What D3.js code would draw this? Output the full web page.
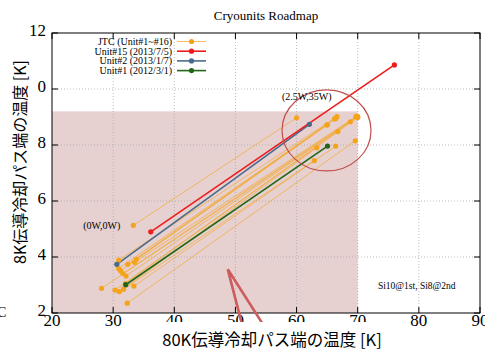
<!DOCTYPE html>
<html>
<head>
<meta charset="utf-8">
<script src="https://cdn.jsdelivr.net/npm/d3@7"></script>
<style>
  body { margin: 0; background: #fff; }
  svg { display: block; }
</style>
</head>
<body>
<svg id="chart" width="485" height="351"></svg>
<script>
"use strict";

// JTC units (#1..#16): start point (0W,0W) and end point (2.5W,35W)
var jtcStart = [
  [33.3, 5.13], [30.9, 3.89], [30.9, 3.59], [32.4, 3.74],
  [33.8, 3.92], [31.2, 3.51], [33.5, 3.81], [31.6, 3.41],
  [28.1, 2.88], [32.1, 3.32], [30.3, 2.82], [32.0, 3.05],
  [31.0, 2.76], [31.7, 2.85], [33.4, 2.96], [32.3, 2.35]
];
var jtcEnd = [
  [60.0, 8.97], [66.6, 9.01], [66.4, 8.95], [66.2, 8.93],
  [65.0, 8.71], [65.0, 8.73], [69.7, 9.01], [69.9, 9.03],
  [68.8, 8.83], [70.0, 9.01], [70.0, 8.98], [66.75, 8.48],
  [63.3, 7.90], [62.9, 7.44], [66.4, 7.96], [69.6, 8.15]
];
var unit15 = [[36.15, 4.90], [76.0, 10.86]];
var unit2 = [[30.6, 3.74], [62.1, 8.74]];
var unit1 = [[32.06, 3.01], [65.06, 7.96]];

var legendLabels = ["JTC (Unit#1~#16)", "Unit#15 (2013/7/5)", "Unit#2 (2013/1/7)", "Unit#1 (2012/3/1)"];
var legendColors = ["#f5a31a", "#ee1c1c", "#4a6a8c", "#22661a"];

var xTicks = [20, 30, 40, 50, 60, 70, 80, 90];
var yTicks = [2, 4, 6, 8, 10, 12];

var shadeBox = { x0: 20, x1: 70, y0: 2, y1: 9.2 };
var highlight = { cx: 64.9, cy: 8.52, rx: 44.5, ry: 40.5 };

var serif = "'Liberation Serif', 'DejaVu Serif', serif";
var cjk = "'Noto Sans CJK JP', 'Noto Sans', sans-serif";

var margin = { top: 33, right: 5, bottom: 38, left: 52 };
var svg = d3.select("#chart");
var width = 485 - margin.left - margin.right;
var height = 351 - margin.top - margin.bottom;

var x = d3.scaleLinear().domain([20, 90]).range([0, width]);
var y = d3.scaleLinear().domain([2, 12]).range([height, 0]);

var g = svg.append("g")
  .attr("transform", "translate(" + margin.left + "," + margin.top + ")");

// shaded region
g.append("rect")
  .attr("x", x(shadeBox.x0))
  .attr("y", y(shadeBox.y1))
  .attr("width", x(shadeBox.x1) - x(shadeBox.x0))
  .attr("height", y(shadeBox.y0) - y(shadeBox.y1))
  .attr("fill", "#e6d0d0");

// grid
g.append("g").selectAll("line").data(xTicks.slice(1, -1)).enter().append("line")
  .attr("x1", function (d) { return x(d); })
  .attr("x2", function (d) { return x(d); })
  .attr("y1", 0).attr("y2", height)
  .attr("stroke", "#aaa").attr("stroke-width", 0.8).attr("stroke-dasharray", "1,2");
g.append("g").selectAll("line").data(yTicks.slice(1, -1)).enter().append("line")
  .attr("y1", function (d) { return y(d); })
  .attr("y2", function (d) { return y(d); })
  .attr("x1", 0).attr("x2", width)
  .attr("stroke", "#aaa").attr("stroke-width", 0.8).attr("stroke-dasharray", "1,2");

// JTC segments
var jtc = d3.range(jtcStart.length).map(function (i) { return [jtcStart[i], jtcEnd[i]]; });
var line = d3.line().x(function (d) { return x(d[0]); }).y(function (d) { return y(d[1]); });

g.append("g").selectAll("path").data(jtc).enter().append("path")
  .attr("d", line)
  .attr("fill", "none")
  .attr("stroke", legendColors[0])
  .attr("stroke-opacity", 0.6)
  .attr("stroke-width", 1);

var units = [
  { pts: unit1, color: legendColors[3] },
  { pts: unit2, color: legendColors[2] },
  { pts: unit15, color: legendColors[1] }
];
units.forEach(function (u) {
  g.append("path").attr("d", line(u.pts))
    .attr("fill", "none").attr("stroke", u.color).attr("stroke-width", 1.6);
});

// JTC dots
g.append("g").selectAll("circle").data(jtcStart.concat(jtcEnd)).enter().append("circle")
  .attr("cx", function (d) { return x(d[0]); })
  .attr("cy", function (d) { return y(d[1]); })
  .attr("r", 2.6)
  .attr("fill", legendColors[0]);

units.forEach(function (u) {
  g.append("g").selectAll("circle").data(u.pts).enter().append("circle")
    .attr("cx", function (d) { return x(d[0]); })
    .attr("cy", function (d) { return y(d[1]); })
    .attr("r", 2.6)
    .attr("fill", u.color);
});

// frame + inward ticks
g.append("rect").attr("width", width).attr("height", height)
  .attr("fill", "none").attr("stroke", "#000").attr("stroke-width", 1);

xTicks.forEach(function (t) {
  g.append("line").attr("x1", x(t)).attr("x2", x(t)).attr("y1", height).attr("y2", height - 6).attr("stroke", "#000");
  g.append("line").attr("x1", x(t)).attr("x2", x(t)).attr("y1", 0).attr("y2", 6).attr("stroke", "#000");
});
yTicks.forEach(function (t) {
  g.append("line").attr("y1", y(t)).attr("y2", y(t)).attr("x1", 0).attr("x2", 6).attr("stroke", "#000");
  g.append("line").attr("y1", y(t)).attr("y2", y(t)).attr("x1", width).attr("x2", width - 6).attr("stroke", "#000");
});

// tick labels
g.append("g").selectAll("text").data(xTicks).enter().append("text")
  .attr("x", function (d) { return x(d); })
  .attr("y", height + 13)
  .attr("text-anchor", "middle")
  .attr("font-family", serif).attr("font-size", 17)
  .text(function (d) { return d; });
g.append("g").selectAll("text").data(yTicks).enter().append("text")
  .attr("x", -6)
  .attr("y", function (d) { return y(d); })
  .attr("dy", "0.2em")
  .attr("text-anchor", "end")
  .attr("font-family", serif).attr("font-size", 17)
  .text(function (d) { return d; });

// highlight ellipse
g.append("ellipse")
  .attr("cx", x(highlight.cx)).attr("cy", y(highlight.cy))
  .attr("rx", highlight.rx).attr("ry", highlight.ry)
  .attr("fill", "none").attr("stroke", "#c0504d").attr("stroke-width", 1.2);

// annotations
g.append("text").attr("x", x(57.6)).attr("y", y(9.6))
  .attr("font-family", serif).attr("font-size", 10).text("(2.5W,35W)");
g.append("text").attr("x", x(25.1)).attr("y", y(5.0))
  .attr("font-family", serif).attr("font-size", 10).text("(0W,0W)");
g.append("text").attr("x", x(73.3)).attr("y", y(2.85))
  .attr("font-family", serif).attr("font-size", 9.5).text("Si10@1st, Si8@2nd");

// legend
var leg = g.append("g").attr("transform", "translate(0,8.5)");
legendLabels.forEach(function (lab, i) {
  var ly = i * 9.7;
  leg.append("text").attr("x", 120).attr("y", ly).attr("dy", "0.33em")
    .attr("text-anchor", "end").attr("font-family", serif).attr("font-size", 10)
    .text(lab);
  leg.append("line").attr("x1", 125).attr("x2", 154).attr("y1", ly).attr("y2", ly)
    .attr("stroke", legendColors[i]).attr("stroke-width", i === 0 ? 1 : 1.6)
    .attr("stroke-opacity", i === 0 ? 0.7 : 1);
  leg.append("circle").attr("cx", 139.5).attr("cy", ly).attr("r", 2.6).attr("fill", legendColors[i]);
});

// title
svg.append("text").attr("x", 266).attr("y", 20)
  .attr("text-anchor", "middle").attr("font-family", serif).attr("font-size", 13)
  .text("Cryounits Roadmap");

// axis titles (on white boxes)
svg.append("rect").attr("x", 148).attr("y", 322).attr("width", 248).attr("height", 29).attr("fill", "#fff");
svg.append("text").attr("x", 272).attr("y", 346)
  .attr("text-anchor", "middle").attr("font-family", cjk).attr("font-size", 16.5)
  .text("80K伝導冷却パス端の温度 [K]");

svg.append("rect").attr("x", 0).attr("y", 46).attr("width", 38).attr("height", 254).attr("fill", "#fff");
svg.append("text")
  .attr("transform", "translate(26,162) rotate(-90)")
  .attr("text-anchor", "middle").attr("font-family", cjk).attr("font-size", 16)
  .text("8K伝導冷却パス端の温度 [K]");
svg.append("text").attr("x", -3).attr("y", 317)
  .attr("font-family", serif).attr("font-size", 14).text("C");

// callout pointer
var callout = [[52.2, 0.64], [48.75, 3.56], [57.3, 0.64]];
g.append("path").attr("d", line(callout))
  .attr("fill", "none").attr("stroke", "#cd5c5c").attr("stroke-width", 2.6);
</script>
</body>
</html>
